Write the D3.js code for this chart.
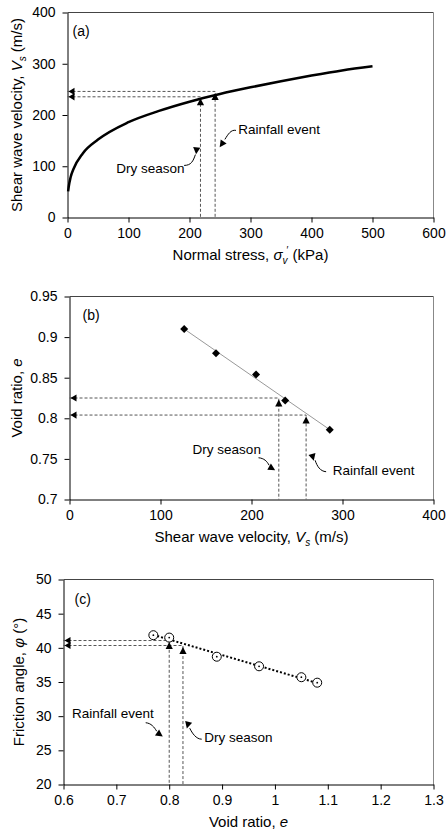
<!DOCTYPE html>
<html><head><meta charset="utf-8">
<script src="https://cdn.jsdelivr.net/npm/d3@7"></script>
<style>
body{margin:0;background:#fff}
svg{display:block}
text{font-family:"Liberation Sans",Arial,sans-serif;fill:#000}
</style>
</head><body>
<svg id="chart" width="448" height="831"></svg>
<script>
// ---------- Panel (a): Vs vs normal stress ----------
const aStress = [1, 2, 5, 10, 25, 50, 100, 150, 200, 250, 300, 350, 400, 450, 500];
const aVs     = [51, 60, 78, 95, 125, 152, 186, 208, 226, 241, 254, 266, 277, 287, 295];
const aXTicks = [0, 100, 200, 300, 400, 500, 600];
const aYTicks = [0, 100, 200, 300, 400];
const aGuideStress = [218, 242];      // dry season, rainfall event
const aGuideVs     = [235.5, 246];

// ---------- Panel (b): void ratio vs Vs ----------
const bVs = [126, 161, 205, 237, 286];
const bE  = [0.910, 0.880, 0.854, 0.822, 0.786];
const bTrendVs = [126, 286];
const bTrendE  = [0.910, 0.786];
const bXTicks = [0, 100, 200, 300, 400];
const bYTicks = [0.7, 0.75, 0.8, 0.85, 0.9, 0.95];
const bGuideVs = [230, 260];          // dry season, rainfall event
const bGuideE  = [0.825, 0.804];

// ---------- Panel (c): friction angle vs void ratio ----------
const cE   = [0.77, 0.80, 0.89, 0.97, 1.05, 1.08];
const cPhi = [41.85, 41.5, 38.7, 37.3, 35.7, 34.9];
const cTrendE   = [0.77, 1.08];
const cTrendPhi = [41.9, 34.85];
const cXTicks = [0.6, 0.7, 0.8, 0.9, 1, 1.1, 1.2, 1.3];
const cYTicks = [20, 25, 30, 35, 40, 45, 50];
const cGuideE   = [0.826, 0.8];       // dry season, rainfall event
const cGuidePhi = [40.34, 41.07];

const eventLabels = ["Dry season", "Rainfall event"];

// annotation geometry in data units: text anchor, bezier (start, c1, c2, end), head position & rotation
const aAnn = [
  {text:[80, 87],  p:[[191.2,101.6],[202.7,101.6],[206,110],[209.7,122.8]], head:[211.4,131], rot:185},
  {text:[280,163], p:[[276.2,170],[268,172],[263,162],[258,152.4]],          head:[253.2,143.6], rot:215}
];
const bAnn = [
  {text:[135.3,0.7557], p:[[207.7,0.7514],[213.8,0.7508],[217.1,0.7471],[219.3,0.7422]], head:[222.2,0.7385], rot:120},
  {text:[289.3,0.7299], p:[[282,0.7342],[275.4,0.7348],[272.1,0.741],[269.9,0.7483]],   head:[267.3,0.7524], rot:165}
];
const cAnn = [
  {text:[0.8662,26.23], p:[[0.8615,26.63],[0.851,26.63],[0.8435,27.5],[0.8388,28.24]], head:[0.8353,28.75], rot:195},
  {text:[0.6159,29.8],  p:[[0.7555,29.04],[0.7659,28.97],[0.7716,28.39],[0.7763,27.8]], head:[0.7816,27.36], rot:125}
];

const svg = d3.select("#chart");
const FONT = '"Liberation Sans", Arial, sans-serif';

function makePanel(box, xDom, yDom, xTicks, yTicks) {
  const x = d3.scaleLinear().domain(xDom).range([box.l, box.r]);
  const y = d3.scaleLinear().domain(yDom).range([box.b, box.t]);
  const g = svg.append("g");
  g.append("line").attr("x1", box.l).attr("x2", box.r).attr("y1", box.t).attr("y2", box.t)
    .attr("stroke", "#444").attr("stroke-width", 1);
  g.append("line").attr("x1", box.r).attr("x2", box.r).attr("y1", box.t).attr("y2", box.b)
    .attr("stroke", "#888").attr("stroke-width", 1);
  const ax = g.append("g").attr("transform", `translate(0,${box.b})`)
    .call(d3.axisBottom(x).tickValues(xTicks).tickFormat(d => String(d))
      .tickSize(5).tickSizeOuter(0).tickPadding(6));
  const ay = g.append("g").attr("transform", `translate(${box.l},0)`)
    .call(d3.axisLeft(y).tickValues(yTicks).tickFormat(d => String(d))
      .tickSize(5).tickSizeOuter(0).tickPadding(7));
  [ax, ay].forEach(a => {
    a.attr("font-size", 14).attr("font-family", FONT);
    a.selectAll("text").attr("fill", "#000");
    a.select(".domain").attr("stroke", "#000");
    a.selectAll(".tick line").attr("stroke", "#000");
  });
  return {x, y, g, box};
}

function rich(sel, parts) {
  let cur = 0;
  parts.forEach(p => {
    const ts = sel.append("tspan").text(p.t);
    if (p.i) ts.attr("font-style", "italic");
    let want = 0;
    if (p.sub) { want = 4; ts.attr("font-size", "10px"); }
    if (p.sup) { want = -6; ts.attr("font-size", "10px"); }
    if (want !== cur) ts.attr("dy", want - cur);
    if (p.dx) ts.attr("dx", p.dx);
    cur = want;
  });
}

function xTitle(P, parts) {
  const t = P.g.append("text").attr("x", (P.box.l + P.box.r) / 2).attr("y", P.box.b + 42)
    .attr("text-anchor", "middle").attr("font-size", 15);
  rich(t, parts);
}
function yTitle(P, parts, xpos) {
  const t = P.g.append("text")
    .attr("transform", `translate(${xpos},${(P.box.t + P.box.b) / 2}) rotate(-90)`)
    .attr("text-anchor", "middle").attr("dy", "0.35em").attr("font-size", 15);
  rich(t, parts);
}

function guides(P, xs, ys) {
  const x0 = P.x.domain()[0], y0 = P.y.domain()[0];
  xs.forEach((xv, i) => {
    const yv = ys[i];
    const pts = [[x0, yv], [xv, yv], [xv, y0]];
    P.g.append("path")
      .attr("d", d3.line().x(d => P.x(d[0])).y(d => P.y(d[1]))(pts))
      .attr("fill", "none").attr("stroke", "#555").attr("stroke-width", 1)
      .attr("stroke-dasharray", "3,2");
    // up triangle with apex at the guide corner
    P.g.append("path").attr("d", "M0,0 L3.6,7 L-3.6,7 Z")
      .attr("transform", `translate(${P.x(xv)},${P.y(yv) + 1.5})`).attr("fill", "#000");
    // left-pointing arrowhead at y axis
    P.g.append("path").attr("d", "M0,0 L6,-3.6 L6,3.6 Z")
      .attr("transform", `translate(${P.x(x0) + 1},${P.y(yv)})`).attr("fill", "#000");
  });
}

function annotations(P, anns) {
  anns.forEach((a, i) => {
    P.g.append("text").attr("x", P.x(a.text[0])).attr("y", P.y(a.text[1]))
      .attr("font-size", 13.5).text(eventLabels[i]);
    const pp = a.p.map(d => [P.x(d[0]), P.y(d[1])]);
    const path = d3.path();
    path.moveTo(pp[0][0], pp[0][1]);
    path.bezierCurveTo(pp[1][0], pp[1][1], pp[2][0], pp[2][1], pp[3][0], pp[3][1]);
    P.g.append("path").attr("d", path.toString()).attr("fill", "none")
      .attr("stroke", "#000").attr("stroke-width", 1);
    P.g.append("path").attr("d", "M0,-4 L3.6,3 L-3.6,3 Z")
      .attr("transform", `translate(${P.x(a.head[0])},${P.y(a.head[1])}) rotate(${a.rot})`)
      .attr("fill", "#000");
  });
}

// ================= Panel (a) =================
const A = makePanel({l:67.5, r:433.5, t:12.5, b:217.5}, [0, 600], [0, 400], aXTicks, aYTicks);
guides(A, aGuideStress, aGuideVs);
A.g.append("path")
  .attr("d", d3.line().curve(d3.curveMonotoneX).x((d, i) => A.x(aStress[i])).y(d => A.y(d))(aVs))
  .attr("fill", "none").attr("stroke", "#000").attr("stroke-width", 2.5);
annotations(A, aAnn);
A.g.append("text").attr("x", A.box.l + 5).attr("y", A.box.t + 23).attr("font-size", 14).text("(a)");
xTitle(A, [{t:"Normal stress, "}, {t:"σ", i:true}, {t:"v", i:true, sub:true}, {t:"′", sup:true, dx:-1}, {t:" (kPa)"}]);
yTitle(A, [{t:"Shear wave velocity, "}, {t:"V", i:true}, {t:"s", i:true, sub:true}, {t:" (m/s)"}], 17);

// ================= Panel (b) =================
const B = makePanel({l:69.5, r:433.5, t:296.5, b:499.5}, [0, 400], [0.7, 0.95], bXTicks, bYTicks);
guides(B, bGuideVs, bGuideE);
B.g.append("path")
  .attr("d", d3.line().x((d, i) => B.x(bTrendVs[i])).y(d => B.y(d))(bTrendE))
  .attr("fill", "none").attr("stroke", "#999").attr("stroke-width", 1);
B.g.selectAll(".dia").data(bE).enter().append("path")
  .attr("d", "M0,-4 L4,0 L0,4 L-4,0 Z")
  .attr("transform", (d, i) => `translate(${B.x(bVs[i])},${B.y(d)})`)
  .attr("fill", "#000");
annotations(B, bAnn);
B.g.append("text").attr("x", B.box.l + 13).attr("y", B.box.t + 23).attr("font-size", 14).text("(b)");
xTitle(B, [{t:"Shear wave velocity, "}, {t:"V", i:true}, {t:"s", i:true, sub:true}, {t:" (m/s)"}]);
yTitle(B, [{t:"Void ratio, "}, {t:"e", i:true}], 17);

// ================= Panel (c) =================
const C = makePanel({l:63.5, r:433.5, t:579.5, b:784.5}, [0.6, 1.3], [20, 50], cXTicks, cYTicks);
guides(C, cGuideE, cGuidePhi);
C.g.append("path")
  .attr("d", d3.line().x((d, i) => C.x(cTrendE[i])).y(d => C.y(d))(cTrendPhi))
  .attr("fill", "none").attr("stroke", "#000").attr("stroke-width", 2)
  .attr("stroke-dasharray", "2,2");
C.g.selectAll(".circ").data(cPhi).enter().append("circle")
  .attr("cx", (d, i) => C.x(cE[i])).attr("cy", d => C.y(d)).attr("r", 4.5)
  .attr("fill", "#fff").attr("stroke", "#000").attr("stroke-width", 1);
C.g.selectAll(".dot").data(cPhi).enter().append("circle")
  .attr("cx", (d, i) => C.x(cE[i])).attr("cy", d => C.y(d)).attr("r", 0.9)
  .attr("fill", "#000");
annotations(C, cAnn);
C.g.append("text").attr("x", C.box.l + 11).attr("y", C.box.t + 24).attr("font-size", 14).text("(c)");
xTitle(C, [{t:"Void ratio, "}, {t:"e", i:true}]);
yTitle(C, [{t:"Friction angle, "}, {t:"φ", i:true}, {t:" (°)"}], 19);
</script>
</body></html>
